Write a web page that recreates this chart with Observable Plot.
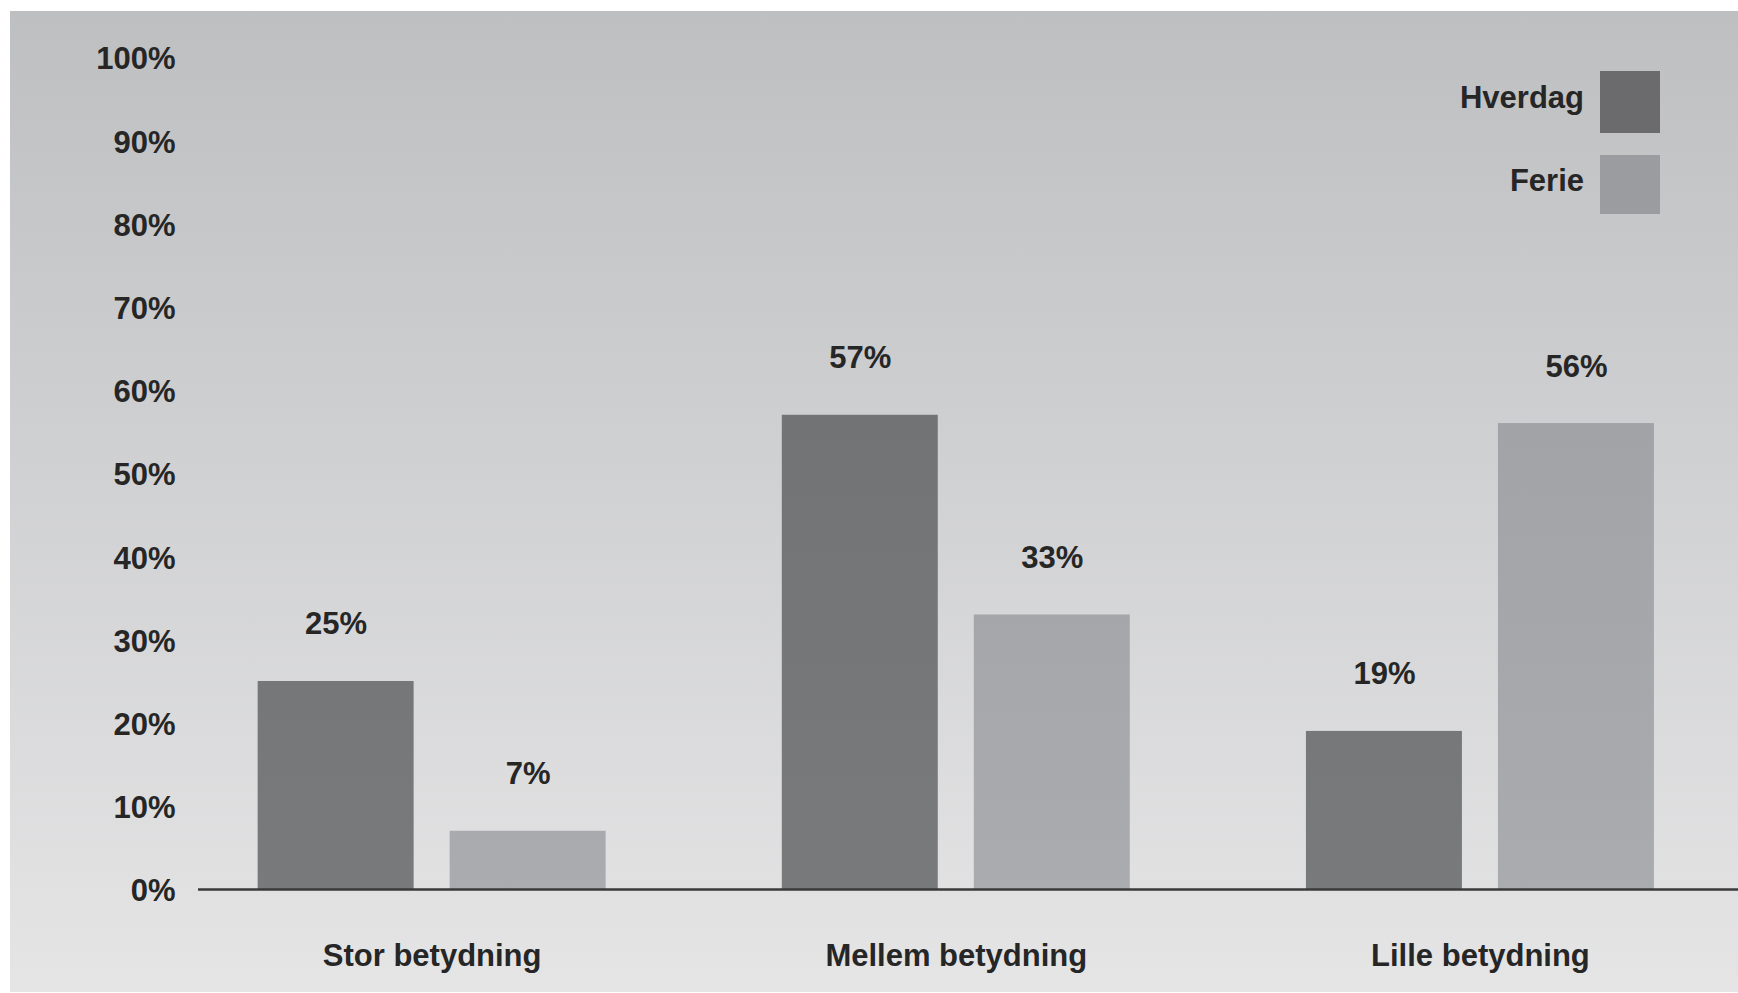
<!DOCTYPE html>
<html>
<head>
<meta charset="utf-8">
<script src="https://cdn.jsdelivr.net/npm/d3@7"></script>
<script src="https://cdn.jsdelivr.net/npm/@observablehq/plot@0.6"></script>
<style>
  html, body { margin: 0; padding: 0; background: #ffffff; }
  #panel {
    position: absolute; left: 10px; top: 11px; width: 1728px; height: 981px;
    background: linear-gradient(to bottom, #bebfc1 0%, #e5e5e6 100%);
    font-family: "Liberation Sans", Arial, Helvetica, sans-serif;
    font-weight: bold; color: #262626; overflow: hidden;
  }
  #panel svg { position: absolute; left: 0; top: 0; }
  #legend { position: absolute; top: 60px; right: 78px; }
  .row { display: flex; justify-content: flex-end; align-items: center; font-size: 31px; }
  .row span { margin-right: 16px; position: relative; top: -4px; }
  .sw { width: 60px; }
</style>
</head>
<body>
<div id="panel"></div>
<script>
const categories = ["Stor betydning", "Mellem betydning", "Lille betydning"];
const seriesNames = ["Hverdag", "Ferie"];
const hverdag = [25, 57, 19];
const ferie = [7, 33, 56];
const yTicks = [0, 10, 20, 30, 40, 50, 60, 70, 80, 90, 100];
const seriesColors = ["#6b6b6d", "#9b9c9f"];

const hvData = categories.map((c, i) => ({cat: c, series: seriesNames[0], value: hverdag[i]}));
const feData = categories.map((c, i) => ({cat: c, series: seriesNames[1], value: ferie[i]}));

const txt = {fill: "#262626", fontSize: 31, fontWeight: "bold"};

const plot = Plot.plot({
  width: 1728,
  height: 981,
  marginTop: 46,
  marginBottom: 103,
  marginLeft: 188,
  marginRight: 0,
  style: {
    background: "transparent",
    fontFamily: "'Liberation Sans', Arial, Helvetica, sans-serif",
    fontSize: "31px",
    fontWeight: "bold",
    color: "#262626",
    overflow: "visible"
  },
  x: {domain: categories, paddingInner: 0.3361, paddingOuter: 0.1371, align: 0.415, round: false, label: null},
  y: {domain: [0, 100], label: null},
  marks: [
    Plot.barY(hvData, {x: "cat", y: "value", fill: "url(#gHv)", insetRight: 192}),
    Plot.barY(feData, {x: "cat", y: "value", fill: "url(#gFe)", insetLeft: 192}),
    Plot.ruleY([0], {stroke: "#3a3a3a", strokeWidth: 2.5}),
    Plot.text(hvData, {x: "cat", y: "value", text: d => d.value + "%", dx: -96, dy: -57, ...txt}),
    Plot.text(feData, {x: "cat", y: "value", text: d => d.value + "%", dx: 96, dy: -57, ...txt}),
    Plot.axisY({ticks: yTicks, tickFormat: d => d + "%", tickSize: 0, tickPadding: 23, dy: 2, label: null, ...txt}),
    Plot.axisX({tickSize: 0, tickPadding: 54, label: null, ...txt})
  ]
});

const svg = d3.select(plot);
const defs = svg.insert("defs", ":first-child");
function grad(id, c0, c1) {
  const g = defs.append("linearGradient").attr("id", id)
    .attr("gradientUnits", "userSpaceOnUse")
    .attr("x1", 0).attr("y1", 0).attr("x2", 0).attr("y2", 981);
  g.append("stop").attr("offset", "0").attr("stop-color", c0);
  g.append("stop").attr("offset", "1").attr("stop-color", c1);
}
grad("gHv", "#6d6e70", "#7a7b7d");
grad("gFe", "#9b9c9f", "#acadb0");

const panel = document.getElementById("panel");
panel.appendChild(plot);

const legend = document.createElement("div");
legend.id = "legend";
seriesNames.forEach((name, i) => {
  const row = document.createElement("div");
  row.className = "row";
  row.style.height = (i === 0 ? 62 : 59) + "px";
  row.style.marginBottom = (i === 0 ? 22 : 0) + "px";
  const s = document.createElement("span");
  s.textContent = name;
  const sw = document.createElement("div");
  sw.className = "sw";
  sw.style.height = "100%";
  sw.style.background = seriesColors[i];
  row.appendChild(s);
  row.appendChild(sw);
  legend.appendChild(row);
});
panel.appendChild(legend);
</script>
</body>
</html>
